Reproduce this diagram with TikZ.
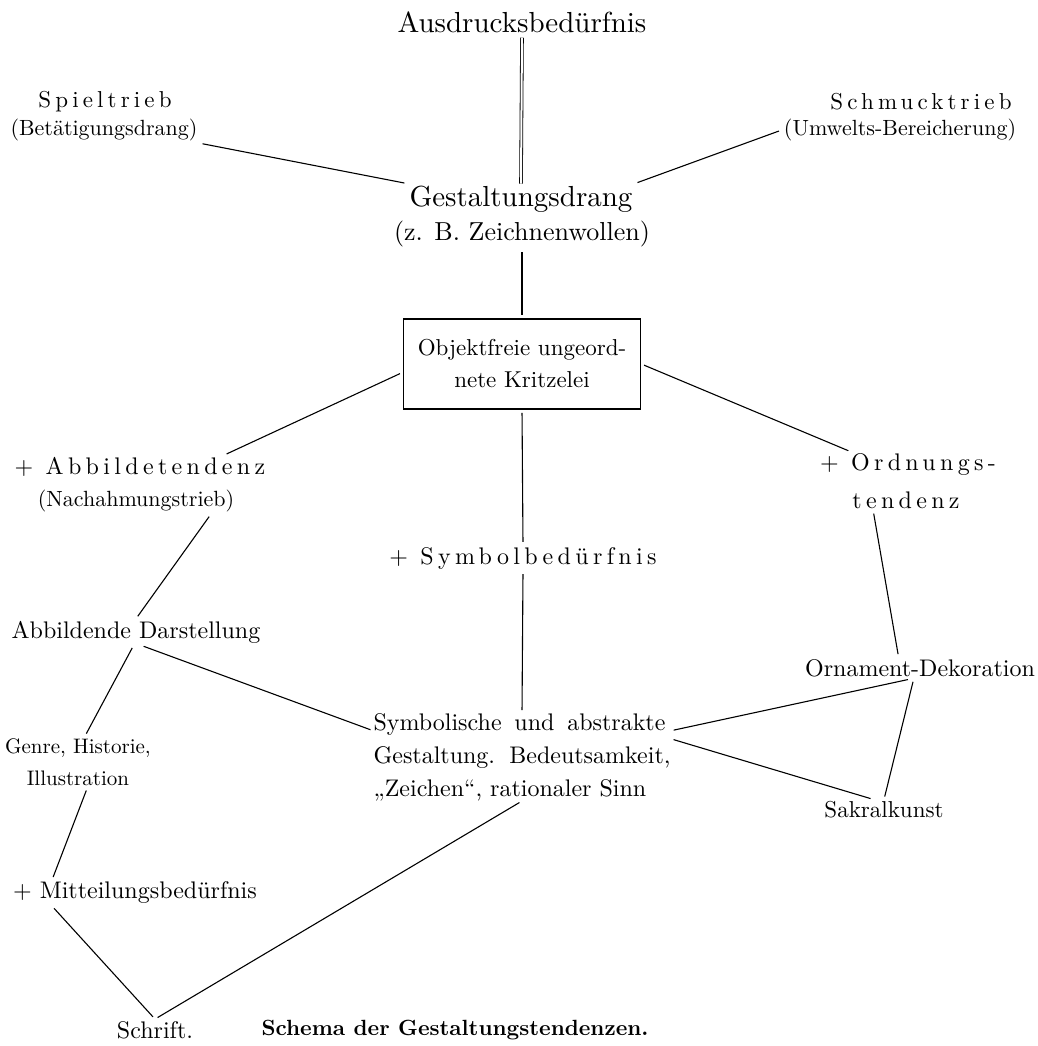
\documentclass[tikz,border=0pt]{standalone}
\usepackage{fontspec}
\setmainfont{lmroman10-regular}[Extension=.otf, BoldFont=lmroman10-bold, ItalicFont=lmroman10-italic]
\usetikzlibrary{positioning}

\begin{document}
\begin{tikzpicture}[x=1pt, y=-1pt,
    txt/.style={font=\fontsize{24}{33}\selectfont, inner sep=2pt},
    big/.style={font=\fontsize{29}{34}\selectfont, inner sep=2pt},
    small/.style={font=\fontsize{22}{28}\selectfont, inner sep=2pt},
    spaced/.style={font=\fontsize{23}{30}\selectfont\addfontfeature{LetterSpace=18}, inner sep=2pt},
    kasten/.style={rectangle, draw, line width=1.6pt, minimum width=237pt, minimum height=90pt, align=center, font=\fontsize{23}{32}\selectfont},
    link/.style={line width=1.1pt, shorten <=3pt, shorten >=3pt}
]
    \fill[white] (0,0) rectangle (1037,1046);
    \useasboundingbox (0,0) rectangle (1037,1046);

    % top
    \node[big] (ausdruck) at (522,22) {Ausdrucksbedürfnis};
    \node[spaced] (spiel) at (105,102) {Spieltrieb};
    \node[small] (betaet) at (104,130) {(Betätigungsdrang)};
    \node[spaced] (schmuck) at (921,102) {Schmucktrieb};
    \node[small] (umwelt) at (900,130) {(Umwelts-Bereicherung)};
    \node[big] (gestalt) at (521,199) {Gestaltungsdrang};
    \node[font=\fontsize{26}{30}\selectfont, inner sep=2pt] (zeichnen) at (522,234) {(z. B. Zeichnenwollen)};
    \node[kasten] (kritzel) at (522,364) {Objektfreie ungeord-\\nete Kritzelei};

    % three tendencies
    \node[spaced, font=\fontsize{24}{30}\selectfont\addfontfeature{LetterSpace=18}] (abbild) at (140,467) {+ Abbildetendenz};
    \node[small] (nachahm) at (136,501) {(Nachahmungstrieb)};
    \node[spaced, font=\fontsize{24}{30}\selectfont\addfontfeature{LetterSpace=18}] (ordnung) at (908,465) {+ Ordnungs-};
    \node[spaced, font=\fontsize{24}{30}\selectfont\addfontfeature{LetterSpace=18}] (tendenz) at (906,500) {tendenz};
    \node[spaced, font=\fontsize{24}{30}\selectfont\addfontfeature{LetterSpace=18}] (symbol) at (523,558) {+ Symbolbedürfnis};

    % results
    \node[txt] (darst) at (136,632) {Abbildende Darstellung};
    \node[txt] (ornament) at (920,668) {Ornament-Dekoration};
    \node[txt, font=\fontsize{21}{32}\selectfont, align=center] (genre) at (78,762) {Genre, Historie,\\Illustration};
    \node[txt, align=left, inner sep=0pt] (symbolisch) at (522,757)
        {\makebox[292pt][s]{Symbolische und abstrakte}\\\makebox[297pt][s]{Gestaltung. Bedeutsamkeit,}\\„Zeichen“, rationaler Sinn};
    \node[txt, font=\fontsize{23}{30}\selectfont] (sakral) at (884,810) {Sakralkunst};
    \node[txt] (mitteil) at (135,893) {+ Mitteilungsbedürfnis};
    \node[txt] (schrift) at (155,1030) {Schrift.};
    \node[font=\fontsize{22}{26}\selectfont\bfseries, inner sep=2pt] (schema) at (455,1030) {Schema der Gestaltungstendenzen.};

    % connectors
    \draw[line width=0.8pt, double, double distance=2pt, shorten <=3pt] (ausdruck.south) -- (gestalt.north);
    \draw[link] (betaet.south east) -- (gestalt.north west);
    \draw[link] (umwelt.west) -- (gestalt.north east);
    \draw[link] (zeichnen.south) -- (kritzel.north);
    \draw[link] (kritzel.184) -- (abbild.8);
    \draw[link] (kritzel.east) -- (ordnung.167);
    \draw[link] (kritzel.south) -- (symbol.north);
    \draw[link] (symbol.south) -- (symbolisch.north);
    \draw[link] (nachahm.-10) -- (darst.north);
    \draw[link] (tendenz.198) -- (ornament.153);
    \draw[link] (darst.-100) -- (genre.75);
    \draw[link] (darst.-70) -- (symbolisch.170);
    \draw[link] (ornament.-130) -- (symbolisch.10);
    \draw[link] (ornament.-120) -- (sakral.north);
    \draw[link] (symbolisch.7) -- (sakral.135);
    \draw[link] (genre.-70) -- (mitteil.171);
    \draw[link] (mitteil.189) -- (schrift.north);
    \draw[link] (symbolisch.south) -- (schrift.north);
\end{tikzpicture}
\end{document}
